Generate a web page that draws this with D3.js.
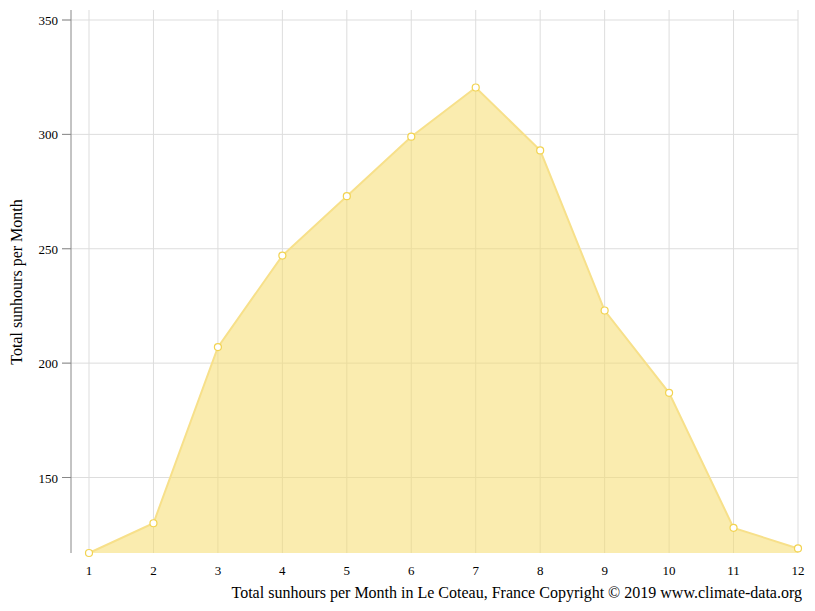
<!DOCTYPE html>
<html><head><meta charset="utf-8">
<script src="https://cdn.jsdelivr.net/npm/d3@7"></script>
<style>body{margin:0;background:#fff}text{font-family:"Liberation Serif",serif}</style>
</head><body>
<script>
var months = [1,2,3,4,5,6,7,8,9,10,11,12]
var sunhours = [117, 130, 207, 247, 273, 299, 320.5, 293, 223, 187, 128, 119]
var yTicks = [150, 200, 250, 300, 350]

var width = 815, height = 611

var x = d3.scaleLinear().domain([1, 12]).range([89, 798])
var y = d3.scaleLinear().domain([117, 350]).range([553, 20])

var svg = d3.select("body").append("svg")
    .attr("width", width).attr("height", height)

// grid
svg.selectAll(".vg").data(months).enter().append("line")
    .attr("x1", d => x(d)).attr("x2", d => x(d))
    .attr("y1", 10).attr("y2", 553)
    .attr("stroke", "#ddd")
svg.selectAll(".hg").data(yTicks).enter().append("line")
    .attr("x1", 62).attr("x2", 798)
    .attr("y1", d => y(d)).attr("y2", d => y(d))
    .attr("stroke", d => "#ddd")
svg.selectAll(".yt").data(yTicks).enter().append("line")
    .attr("x1", 62).attr("x2", 71)
    .attr("y1", d => y(d)).attr("y2", d => y(d))
    .attr("stroke", "#888")

svg.append("line").attr("x1", 71).attr("x2", 71).attr("y1", 10).attr("y2", 553)
    .attr("stroke", "#888")

var pts = months.map((m, i) => [m, sunhours[i]])

svg.append("path")
    .datum(pts)
    .attr("d", d3.area().x(d => x(d[0])).y0(553).y1(d => y(d[1])))
    .attr("fill", "rgba(245,221,110,0.55)")
svg.append("path")
    .datum(pts)
    .attr("d", d3.line().x(d => x(d[0])).y(d => y(d[1])))
    .attr("fill", "none").attr("stroke", "#f7e08a").attr("stroke-width", 2)

svg.selectAll(".pt").data(pts).enter().append("circle")
    .attr("cx", d => x(d[0])).attr("cy", d => y(d[1])).attr("r", 3.5)
    .attr("fill", "#fff").attr("stroke", "#f2d350").attr("stroke-width", 1.2)

svg.selectAll(".yl").data(yTicks).enter().append("text")
    .attr("x", 58).attr("y", d => y(d) + 5)
    .attr("text-anchor", "end").attr("font-size", 13).text(d => d)
svg.selectAll(".xl").data(months).enter().append("text")
    .attr("x", d => x(d)).attr("y", 575)
    .attr("text-anchor", "middle").attr("font-size", 13).text(d => d)

svg.append("text")
    .attr("transform", "translate(22,282) rotate(-90)")
    .attr("text-anchor", "middle").attr("font-size", 16)
    .text("Total sunhours per Month")
svg.append("text")
    .attr("x", 802).attr("y", 598).attr("text-anchor", "end").attr("font-size", 16)
    .text("Total sunhours per Month in Le Coteau, France Copyright © 2019 www.climate-data.org")
</script>
</body></html>
